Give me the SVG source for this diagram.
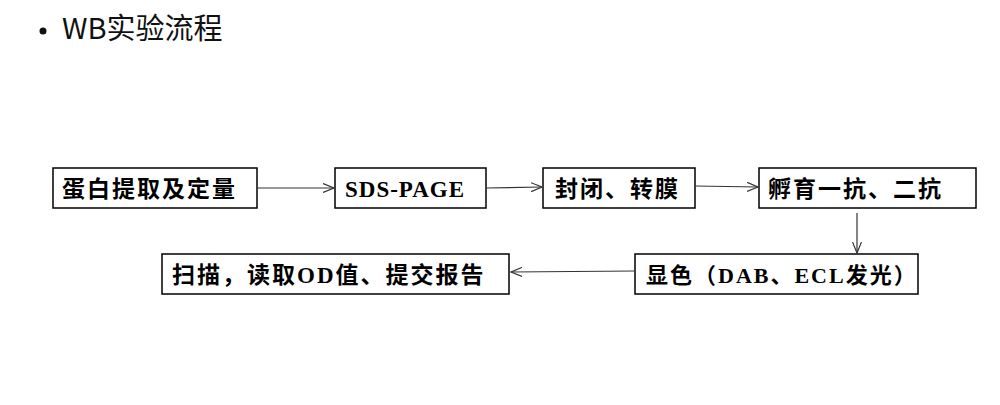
<svg xmlns="http://www.w3.org/2000/svg" width="1000" height="405" viewBox="0 0 1000 405">
<style>
.box{fill:#fff;stroke:#000;stroke-width:1.5}
.t{font-family:"Liberation Serif","Noto Sans CJK SC",serif;font-size:23px;font-weight:bold;fill:#000}
.c{stroke:#333;stroke-width:1.2;fill:none;marker-end:url(#ah)}
.title{font-family:"Noto Sans CJK SC","Liberation Sans",sans-serif;font-size:29px;fill:#111}
</style>
<defs>
<marker id="ah" viewBox="0 0 12 10" refX="11" refY="5" markerWidth="12" markerHeight="10" markerUnits="userSpaceOnUse" orient="auto">
<path d="M0,0.5 L11,5 L0,9.5" fill="none" stroke="#333" stroke-width="1.2"/>
</marker>
</defs>
<rect width="1000" height="405" fill="#fff"/>
<g id="title">
<circle cx="43" cy="31" r="3.5" fill="#111"/>
<text class="title" x="62" y="39">WB实验流程</text>
</g>
<g id="n1"><rect class="box" x="53" y="168" width="204" height="40"/><text class="t" x="62" y="197" style="letter-spacing:2px">蛋白提取及定量</text></g>
<g id="n2"><rect class="box" x="335" y="168" width="151" height="40"/><text class="t" x="345" y="197" style="letter-spacing:1px">SDS-PAGE</text></g>
<g id="n3"><rect class="box" x="543" y="168" width="152" height="40"/><text class="t" x="555" y="197" style="letter-spacing:2px">封闭、转膜</text></g>
<g id="n4"><rect class="box" x="759" y="168" width="217" height="40"/><text class="t" x="768" y="197" style="letter-spacing:2px">孵育一抗、二抗</text></g>
<g id="n5"><rect class="box" x="635" y="254" width="283" height="40"/><text class="t" x="646" y="283" style="font-size:22px;letter-spacing:2px">显色（DAB、ECL发光）</text></g>
<g id="n6"><rect class="box" x="162" y="254" width="347" height="40"/><text class="t" x="172" y="283" style="letter-spacing:2px">扫描，读取OD值、提交报告</text></g>
<g id="connectors">
<path class="c" d="M257,188 L334,188"/>
<path class="c" d="M486,188 L542,187"/>
<path class="c" d="M695,186 L758,187"/>
<path class="c" d="M857,213 L857,253"/>
<path class="c" d="M635,271 L511,272"/>
</g>
</svg>
